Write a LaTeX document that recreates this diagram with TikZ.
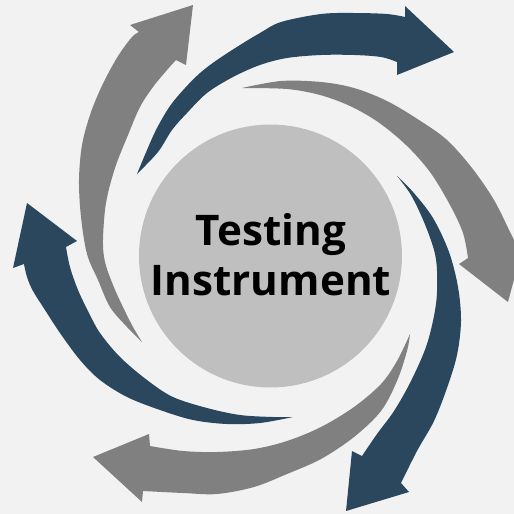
\documentclass[tikz,border=0pt]{standalone}
\usepackage{fontspec}
\setmainfont{Open Sans}
\usepackage{tikz}
\definecolor{swirlblue}{HTML}{2A475E}
\definecolor{swirlgray}{HTML}{808080}
\definecolor{hubgray}{HTML}{BFBFBF}
\definecolor{paper}{HTML}{F2F2F2}

\begin{document}
\begin{tikzpicture}[x=0.02cm, y=-0.02cm,
    bluearrow/.style={fill=swirlblue},
    grayarrow/.style={fill=swirlgray},
    swirl/.style={smooth, tension=0.55},
    hub/.style={circle, fill=hubgray, minimum size=5.26cm, inner sep=0pt},
    hubtext/.style={align=center, font=\fontsize{24pt}{28.35pt}\selectfont\bfseries}]
  \fill[paper] (0,0) rectangle (514,514);
  \useasboundingbox (0,0) rectangle (514,514);
  \clip (0,0) rectangle (514,514);

  % top, blue
  \fill[bluearrow] plot[swirl] coordinates {(137,174) (147,150) (157,128) (170,106) (185,88) (200,73) (217,60) (240,45) (260,33) (281,22) (321,14) (354,13) (387,14) (405,17)}
    -- (405,6) -- (454,52) -- (397,75)
    -- plot[swirl] coordinates {(397,62) (381,57) (354,55) (321,55) (287,58) (260,65) (233,77) (207,93) (187,113) (172,130) (158,152) (137,174)} -- cycle;

  % right, gray
  \fill[grayarrow] plot[swirl] coordinates {(242,88) (281,81) (321,82) (354,88) (387,101) (419,120) (447,140) (472,168) (494,200) (511,234) (516,244)}
    -- (525,238) -- (508,302) -- (459,264)
    -- plot[swirl] coordinates {(468,258) (463,233) (450,205) (430,172) (406,145) (378,122) (350,106) (320,95) (287,89) (242,88)} -- cycle;

  % lower right, blue
  \fill[bluearrow] plot[swirl] coordinates {(397,176) (413,192) (433,218) (449,252) (458,287) (461,321) (457,355) (447,388) (434,421) (417,451) (401,483)}
    -- (409,492) -- (346,511) -- (352,451)
    -- plot[swirl] coordinates {(362,456) (377,434) (394,411) (411,381) (427,344) (436,304) (437,271) (434,250) (424,222) (411,195) (397,176)} -- cycle;

  % bottom, gray
  \fill[grayarrow] plot[swirl] coordinates {(410,334) (407,351) (397,381) (381,411) (354,437) (321,459) (287,474) (254,487) (217,494) (183,493) (143,491)}
    -- (142,502) -- (93,457) -- (149,434)
    -- plot[swirl] coordinates {(150,446) (183,451) (217,452) (254,449) (287,441) (321,427) (354,407) (381,384) (397,361) (410,334)} -- cycle;

  % left, blue
  \fill[bluearrow] plot[swirl] coordinates {(293,417) (260,423) (227,424) (193,420) (160,410) (127,397) (100,380) (80,360) (60,333) (45,310) (33,291) (27,277) (24,264)}
    -- (13,268) -- (27,203) -- (77,241)
    -- plot[swirl] coordinates {(66,247) (70,267) (78,290) (89,313) (100,333) (120,357) (147,380) (173,397) (207,408) (240,415) (273,417) (293,417)} -- cycle;

  % upper left, gray
  \fill[grayarrow] plot[swirl] coordinates {(142,342) (127,327) (110,307) (98,280) (87,254) (81,217) (79,180) (82,145) (90,115) (100,90) (110,70) (120,53) (132,37) (139,32)}
    -- (130,25) -- (193,5) -- (186,65)
    -- plot[swirl] coordinates {(176,60) (167,70) (153,87) (140,107) (128,135) (115,168) (106,203) (103,240) (105,262) (113,285) (122,305) (133,327) (142,342)} -- cycle;

  \node[hub] (hub) at (270.5,256) {};
  \node[hubtext] (title) at (271,254.5) {Testing\\Instrument};
\end{tikzpicture}
\end{document}
